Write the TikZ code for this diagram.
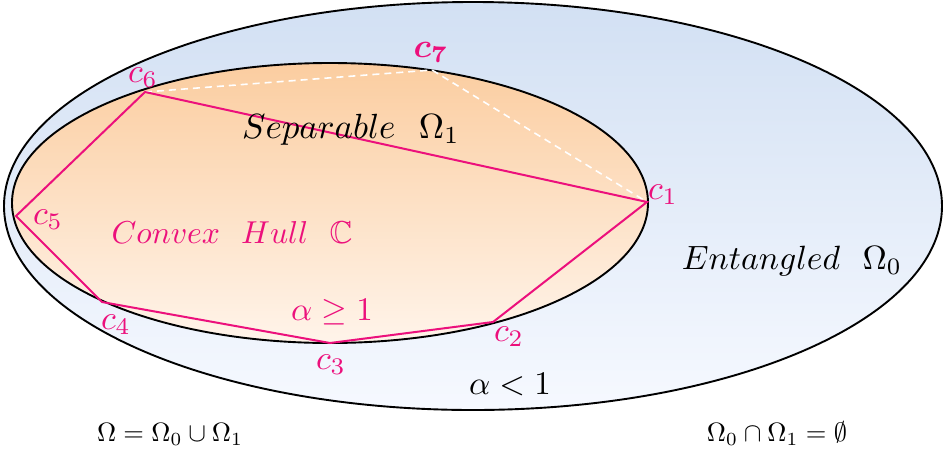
\documentclass[tikz,border=0pt]{standalone}
\usepackage{amsmath,amssymb,bm}
\usetikzlibrary{shapes.geometric}
\definecolor{hullpink}{RGB}{236,16,124}
\definecolor{blueTop}{RGB}{210,224,243}
\definecolor{blueBot}{RGB}{246,249,255}
\definecolor{orTop}{RGB}{251,205,160}
\definecolor{orBot}{RGB}{255,244,234}
\begin{document}
\begin{tikzpicture}[x=1pt,y=-1pt,
  region/.style={line width=1.9pt,draw=black},
  hull/.style={draw=hullpink,line width=2pt,line join=miter},
  hidden/.style={draw=white,line width=1.6pt,dashed,dash pattern=on 7pt off 5pt},
  clabel/.style={text=hullpink,scale=3.4,inner sep=0pt},
  bigtxt/.style={scale=3.3,inner sep=0pt},
  eqtxt/.style={scale=2.65,inner sep=0pt}]
\useasboundingbox (0,0) rectangle (945,448);
% outer region
\shade[top color=blueTop,bottom color=blueBot] (473,206) ellipse [x radius=469,y radius=204];
\draw[region] (473,206) ellipse [x radius=469,y radius=204];
% inner region
\shade[top color=orTop,bottom color=orBot] (330,203) ellipse [x radius=318,y radius=140];
\draw[region] (330,203) ellipse [x radius=318,y radius=140];
% hull vertices
\coordinate (c1) at (647,202);
\coordinate (c2) at (493,322);
\coordinate (c3) at (330,343);
\coordinate (c4) at (102,302);
\coordinate (c5) at (16,216);
\coordinate (c6) at (145,92);
\coordinate (c7) at (432,70);
\draw[hidden] (c6) -- (c7) -- (c1);
\draw[hull] (c1) -- (c2) -- (c3) -- (c4) -- (c5) -- (c6) -- cycle;
% vertex labels
\node[clabel] (l1) at (663,195) {$c_1$};
\node[clabel] (l2) at (509,337) {$c_2$};
\node[clabel] (l3) at (331,365) {$c_3$};
\node[clabel] (l4) at (116,325) {$c_4$};
\node[clabel] (l5) at (48,220) {$c_5$};
\node[clabel] (l6) at (143,78) {$c_6$};
\node[clabel] (l7) at (431,52) {$\bm{c_7}$};
% texts
\node[bigtxt,scale=1.06] (sep) at (351,130) {$Separable\ \ \Omega_1$};
\node[bigtxt,scale=0.96] (hullt) [text=hullpink] at (232,232) {$Convex\ \ Hull\ \ \mathbb{C}$};
\node[bigtxt,scale=1.02] (ent) at (792,261) {$Entangled\ \ \Omega_0$};
\node[bigtxt,text=hullpink] (ageq) at (332,312) {$\alpha \geq 1$};
\node[bigtxt] (alt) at (510,385) {$\alpha < 1$};
\node[eqtxt] (union) at (170,434) {$\Omega=\Omega_0\cup\Omega_1$};
\node[eqtxt] (inter) at (777,434) {$\Omega_0\cap\Omega_1=\emptyset$};
\end{tikzpicture}
\end{document}
